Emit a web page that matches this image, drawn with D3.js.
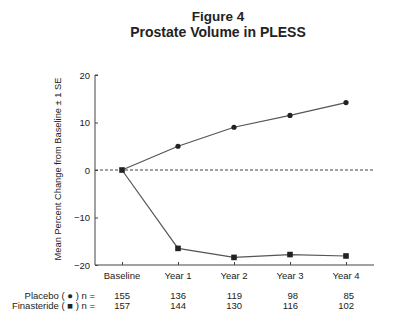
<!DOCTYPE html>
<html>
<head>
<meta charset="utf-8">
<script src="https://cdn.jsdelivr.net/npm/d3@7"></script>
<style>
  body { margin: 0; background: #fff; }
  text { font-family: "Liberation Sans", Arial, sans-serif; fill: #222; }
</style>
</head>
<body>
<svg id="chart" width="400" height="327"></svg>
<script>
const categories = ['Baseline', 'Year 1', 'Year 2', 'Year 3', 'Year 4'];
const placebo = [0, 5, 9, 11.5, 14.2];
const finasteride = [0, -16.5, -18.4, -17.8, -18.1];
const placeboN = [155, 136, 119, 98, 85];
const finasterideN = [157, 144, 130, 116, 102];
const yTicks = [-20, -10, 0, 10, 20];

const svg = d3.select('#chart');
const plotL = 95, plotR = 374, plotT = 75, plotB = 265;

// title
svg.append('text').attr('x', 218).attr('y', 21).attr('text-anchor', 'middle')
  .style('font-size', '13.5px').style('font-weight', 'bold').text('Figure 4');
svg.append('text').attr('x', 218).attr('y', 37).attr('text-anchor', 'middle')
  .style('font-size', '14px').style('font-weight', 'bold').text('Prostate Volume in PLESS');

const x = d3.scalePoint().domain(categories).range([122, 346]);
const y = d3.scaleLinear().domain([-20, 20]).range([plotB, plotT]);

// y axis
const yAxis = svg.append('g').attr('transform', `translate(${plotL},0)`)
  .call(d3.axisRight(y).tickValues(yTicks).tickSize(3).tickFormat(d3.format('d')));
yAxis.select('.domain').attr('d', `M3,${plotT}H0V${plotB}`).attr('stroke', '#444');
yAxis.selectAll('.tick line').attr('stroke', '#444');
yAxis.selectAll('.tick text').attr('x', -5).attr('text-anchor', 'end')
  .style('font-size', '9.5px').attr('fill', '#222');

// x axis
const xAxis = svg.append('g').attr('transform', `translate(0,${plotB})`)
  .call(d3.axisTop(x).tickSize(3).tickFormat(''));
xAxis.select('.domain').attr('d', `M${plotL},0H${plotR}`).attr('stroke', '#444');
xAxis.selectAll('.tick line').attr('stroke', '#444');
svg.append('g').selectAll('text').data(categories).join('text')
  .attr('x', d => x(d)).attr('y', plotB + 14).attr('text-anchor', 'middle')
  .style('font-size', '9.5px').text(d => d);

// zero line
svg.append('line').attr('x1', plotL).attr('x2', plotR).attr('y1', y(0)).attr('y2', y(0))
  .attr('stroke', '#444').attr('stroke-dasharray', '3,2').attr('stroke-width', 1);

// y label
svg.append('text').attr('transform', `translate(61,${(plotT + plotB) / 2 - 1}) rotate(-90)`)
  .attr('text-anchor', 'middle').style('font-size', '9.3px')
  .text('Mean Percent Change from Baseline \u00b1 1 SE');

const line = d3.line().x((d, i) => x(categories[i])).y(d => y(d));
svg.append('path').datum(placebo).attr('d', line).attr('fill', 'none')
  .attr('stroke', '#555').attr('stroke-width', 1.2);
svg.append('path').datum(finasteride).attr('d', line).attr('fill', 'none')
  .attr('stroke', '#555').attr('stroke-width', 1.2);

svg.append('g').selectAll('circle').data(placebo.slice(1)).join('circle')
  .attr('cx', (d, i) => x(categories[i + 1])).attr('cy', d => y(d)).attr('r', 2.6)
  .attr('fill', '#222');
svg.append('g').selectAll('rect').data(finasteride).join('rect')
  .attr('x', (d, i) => x(categories[i]) - 2.8).attr('y', d => y(d) - 2.8)
  .attr('width', 5.6).attr('height', 5.6).attr('fill', '#222');

// n table
const rows = [
  { label: 'Placebo ( \u25cf ) n =', vals: placeboN, yy: 299 },
  { label: 'Finasteride ( \u25a0 ) n =', vals: finasterideN, yy: 309 }
];
rows.forEach(r => {
  svg.append('text').attr('x', 95).attr('y', r.yy).attr('text-anchor', 'end')
    .style('font-size', '9.5px').text(r.label);
  svg.append('g').selectAll('text').data(r.vals).join('text')
    .attr('x', (d, i) => x(categories[i]) + 8).attr('y', r.yy).attr('text-anchor', 'end')
    .style('font-size', '9.5px').text(d => d);
});
</script>
</body>
</html>
